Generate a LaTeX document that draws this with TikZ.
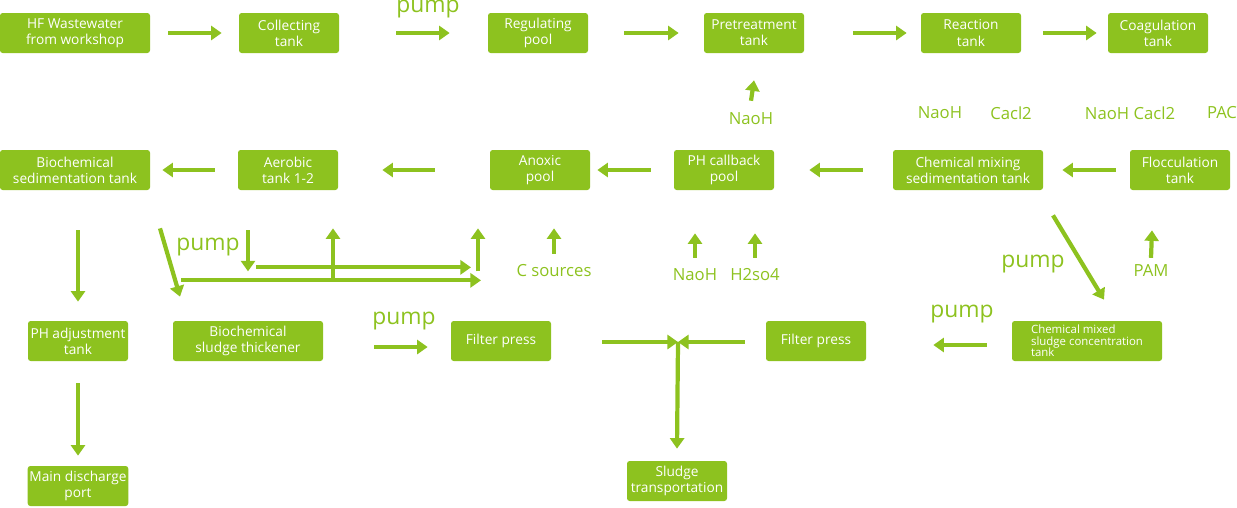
\documentclass[tikz,border=0pt]{standalone}
\usepackage{fontspec}
\setmainfont{Open Sans}
\usetikzlibrary{arrows.meta,calc}
\definecolor{leaf}{RGB}{141,194,31}
\tikzset{
  box/.style={fill=leaf, rounded corners=1.5pt, text=white, font=\fontsize{7.8}{9.2}\selectfont,
    align=center, minimum width=100*0.02cm, minimum height=40*0.02cm, inner sep=1pt},
  wide/.style={box, minimum width=150*0.02cm},
  flow/.style={draw=leaf, line width=2.4pt, -{Triangle[length=6pt,width=8pt]}},
  chem/.style={text=leaf, font=\fontsize{9.5}{10}\selectfont},
  pumplbl/.style={text=leaf, font=\fontsize{13}{13}\selectfont},
}
\begin{document}
\begin{tikzpicture}[x=0.02cm, y=-0.02cm]
  \useasboundingbox (0,0) rectangle (1237,507);
  % first row
  \node[wide] (hf)   at (75,33)   {HF Wastewater\\from workshop};
  \node[box]  (col)  at (289,33)  {Collecting\\tank};
  \node[box]  (reg)  at (538,33)  {Regulating\\pool};
  \node[box]  (pre)  at (754,33)  {Pretreatment\\tank};
  \node[box]  (rea)  at (971,33)  {Reaction\\tank};
  \node[box]  (coa)  at (1158,33) {Coagulation\\tank};
  % second row
  \node[wide] (bst)  at (75,170)  {Biochemical\\sedimentation tank};
  \node[box]  (aer)  at (288,170) {Aerobic\\tank 1-2};
  \node[box]  (ano)  at (540,170) {Anoxic\\pool};
  \node[box]  (phc)  at (724,170) {PH callback\\pool};
  \node[wide] (cms)  at (968,170) {Chemical mixing\\sedimentation tank};
  \node[box]  (flo)  at (1180,170) {Flocculation\\tank};
  % third row
  \node[box]  (pha)  at (78,341)  {PH adjustment\\tank};
  \node[wide] (bsl)  at (248,341) {Biochemical\\sludge thickener};
  \node[box]  (fp1)  at (501,341) {Filter press};
  \node[box]  (fp2)  at (816,341) {Filter press};
  \node[wide, align=left, font=\fontsize{6.5}{6.5}\selectfont] (csc) at (1087,341)
    {Chemical mixed\\sludge concentration\\tank};
  % last row
  \node[box]  (mdp)  at (78,486)  {Main discharge\\port};
  \node[box]  (slt)  at (677,481) {Sludge\\transportation};
  % labels
  \node[pumplbl] (p1) at (428,9)   {pump};
  \node[pumplbl] (p2) at (208,247) {pump};
  \node[pumplbl] (p3) at (1033,264) {pump};
  \node[pumplbl] (p4) at (404,321) {pump};
  \node[pumplbl] (p5) at (962,314) {pump};
  \node[chem] (n1) at (751,119)  {NaoH};
  \node[chem] (n2) at (940,113)  {NaoH};
  \node[chem] (c1) at (1011,113) {Cacl2};
  \node[chem] (n3) at (1130,113) {NaoH Cacl2};
  \node[chem] (pac) at (1222,113) {PAC};
  \node[chem] (cs) at (554,271)  {C sources};
  \node[chem] (n4) at (695,275)  {NaoH};
  \node[chem] (hs) at (755,275)  {H2so4};
  \node[chem] (pam) at (1151,271) {PAM};
  % first row arrows
  \draw[flow] ($(hf.east)+(18,0)$)  -- ($(col.west)+(-17,0)$);
  \draw[flow] ($(col.east)+(57,0)$) -- ($(reg.west)+(-38,0)$);
  \draw[flow] ($(reg.east)+(36,0)$) -- ($(pre.west)+(-25,0)$);
  \draw[flow] ($(pre.east)+(49,0)$) -- ($(rea.west)+(-14,0)$);
  \draw[flow] ($(rea.east)+(22,0)$) -- ($(coa.west)+(-11,0)$);
  \draw[flow] ($(n1.north)+(0,-6)$) -- ($(pre.south)+(0,27)$);
  % second row arrows
  \draw[flow] ($(flo.west)+(-14,0)$) -- ($(cms.east)+(19,0)$);
  \draw[flow] ($(cms.west)+(-30,0)$) -- ($(phc.east)+(35,0)$);
  \draw[flow] ($(phc.west)+(-23,0)$) -- ($(ano.east)+(7,0)$);
  \draw[flow] ($(ano.west)+(-55,0)$) -- ($(aer.east)+(44,0)$);
  \draw[flow] ($(aer.west)+(-23,0)$) -- ($(bst.east)+(12,0)$);
  % descending links
  \draw[flow] ($(bst.south)+(3,40)$) -- ($(pha.north)+(0,-19)$);
  \draw[flow] ($(pha.south)+(0,22)$) -- ($(mdp.north)+(0,-10)$);
  \draw[flow] ($(bst.south)+(85,38)$) -- ($(bsl.north)+(-68,-24)$);
  \draw[flow] ($(aer.south)+(-40,40)$) -- ($(aer.south)+(-40,81)$);
  \draw[flow] ($(aer.south)+(-32,77)$) -- ($(ano.south)+(-69,77)$);
  \draw[flow] ($(aer.south)+(-107,90)$) -- ($(ano.south)+(-59,90)$);
  \draw[flow] ($(aer.south)+(45,90)$) -- ($(aer.south)+(45,38)$);
  \draw[flow] ($(ano.south)+(-62,81)$) -- ($(ano.south)+(-62,38)$);
  \draw[flow] ($(cs.north)+(0,-5)$) -- ($(ano.south)+(14,38)$);
  \draw[flow] ($(n4.north)+(0,-5)$) -- ($(phc.south)+(-29,43)$);
  \draw[flow] ($(hs.north)+(0,-5)$) -- ($(phc.south)+(31,43)$);
  \draw[flow] ($(pam.north)+(0,-1)$) -- ($(flo.south)+(-28,40)$);
  \draw[flow] ($(cms.south)+(85,25)$) -- ($(csc.north)+(17,-21)$);
  % third row arrows
  \draw[flow] ($(bsl.east)+(51,6)$) -- ($(fp1.west)+(-23,6)$);
  \draw[flow] ($(csc.west)+(-25,4)$) -- ($(fp2.east)+(67,4)$);
  \coordinate (meet) at (678,342);
  \draw[flow] ($(fp1.east)+(51,1)$) -- (meet);
  \draw[flow] ($(fp2.west)+(-21,1)$) -- (meet);
  \draw[flow] (meet) -- ($(slt.north)+(0,-12)$);
\end{tikzpicture}
\end{document}
